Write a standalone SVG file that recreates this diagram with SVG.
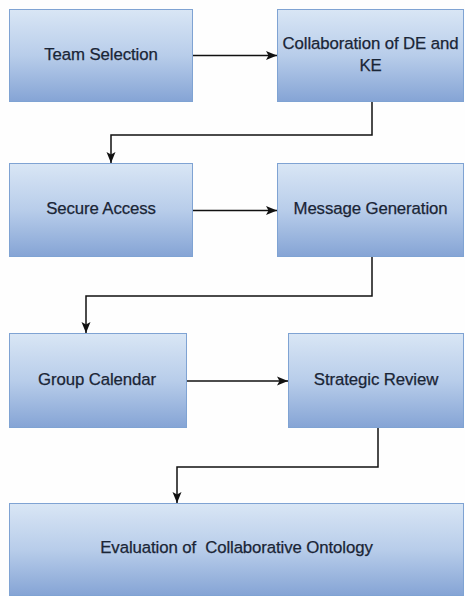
<svg xmlns="http://www.w3.org/2000/svg" width="465" height="596" viewBox="0 0 465 596">
<defs>
<linearGradient id="g" x1="0" y1="0" x2="0" y2="1">
<stop offset="0" stop-color="#d9e6f5"/>
<stop offset="0.5" stop-color="#b8cdea"/>
<stop offset="1" stop-color="#85a4d5"/>
</linearGradient>
<marker id="ah" viewBox="0 0 11 10" refX="11" refY="5" markerWidth="11" markerHeight="10" markerUnits="userSpaceOnUse" orient="auto">
<path d="M0,0.5 L11,5 L0,9.5 L2.5,5 Z" fill="#111"/>
</marker>
<style>
.box{fill:url(#g);stroke:#7fa3d3;stroke-width:1}
.lbl{font-family:"Liberation Sans",Arial,sans-serif;font-size:16.8px;fill:#1a2536;stroke:#1a2536;stroke-width:0.25;text-anchor:middle;letter-spacing:-0.1px}
.con{fill:none;stroke:#111;stroke-width:1.5;marker-end:url(#ah)}
</style>
</defs>
<rect width="465" height="596" fill="#fefefe"/>
<g id="n1"><rect class="box" x="9.5" y="9.5" width="183" height="92"/><text class="lbl" x="101" y="60">Team Selection</text></g>
<g id="n2"><rect class="box" x="277.5" y="9.5" width="186" height="92"/><text class="lbl" x="370.5" y="49">Collaboration of DE and</text><text class="lbl" x="370.5" y="71">KE</text></g>
<g id="n3"><rect class="box" x="9.5" y="163.5" width="183" height="93"/><text class="lbl" x="101" y="214">Secure Access</text></g>
<g id="n4"><rect class="box" x="277.5" y="163.5" width="186" height="93"/><text class="lbl" x="370.5" y="214">Message Generation</text></g>
<g id="n5"><rect class="box" x="9.5" y="333.5" width="177" height="94"/><text class="lbl" x="97" y="385">Group Calendar</text></g>
<g id="n6"><rect class="box" x="288.5" y="333.5" width="175" height="94"/><text class="lbl" x="376" y="385">Strategic Review</text></g>
<g id="n7"><rect class="box" x="9.5" y="503.5" width="454" height="92"/><text class="lbl" x="236.5" y="553" xml:space="preserve">Evaluation of  Collaborative Ontology</text></g>
<g id="connectors">
<path class="con" d="M193,55.5 H277"/>
<path class="con" d="M372,102 V135 H111 V163"/>
<path class="con" d="M193,210.5 H277"/>
<path class="con" d="M372,257 V296 H86 V333"/>
<path class="con" d="M187,381 H288"/>
<path class="con" d="M378,428 V467 H177 V503"/>
</g>
</svg>
